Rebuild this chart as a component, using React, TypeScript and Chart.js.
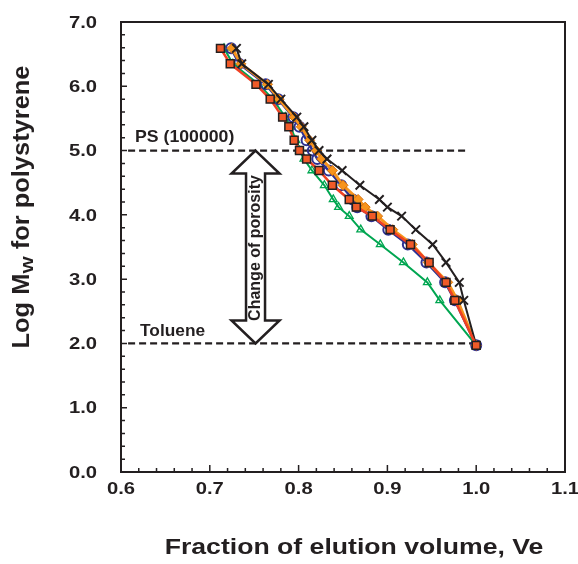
import React, { useEffect, useRef } from "react";
import { Chart, registerables } from "chart.js";

Chart.register(...registerables);

// Log Mw of the polystyrene standards (shared by all series)
const logMw = [6.59, 6.35, 6.03, 5.80, 5.52, 5.37, 5.16, 5.00, 4.87, 4.69, 4.46, 4.24, 4.12, 3.98, 3.77, 3.54, 3.26, 2.95, 2.67, 1.97];

// Fraction of elution volume for each series
const veRed = [0.712, 0.723, 0.752, 0.768, 0.782, 0.789, 0.795, 0.801, 0.809, 0.823, 0.838, 0.857, 0.865, 0.883, 0.903, 0.926, 0.947, 0.966, 0.976, 1.0];
const veBlue = [0.724, 0.733, 0.763, 0.777, 0.794, 0.801, 0.809, 0.816, 0.821, 0.834, 0.848, 0.861, 0.866, 0.882, 0.901, 0.923, 0.944, 0.965, 0.976, 1.0];
const veOrange = [0.725, 0.735, 0.765, 0.778, 0.795, 0.803, 0.8125, 0.820, 0.826, 0.838, 0.850, 0.867, 0.875, 0.889, 0.906, 0.928, 0.946, 0.968, 0.979, 1.0];
const veBlack = [0.730, 0.736, 0.766, 0.780, 0.798, 0.806, 0.815, 0.823, 0.832, 0.849, 0.869, 0.891, 0.900, 0.916, 0.932, 0.951, 0.966, 0.981, 0.986, 1.0];
const veGreen = [0.716, 0.726, 0.755, 0.771, 0.785, 0.791, 0.797, 0.801, 0.806, 0.815, 0.829, 0.839, 0.845, 0.857, 0.870, 0.892, 0.918, 0.945, 0.959, 1.0];

// Reference levels
const psLineX = [0.608, 0.99];
const psLevel = 5.0;
const tolueneLineX = [0.608, 1.0];
const tolueneLevel = 2.0;

// Axis ticks
const xTickValues = [0.6, 0.7, 0.8, 0.9, 1.0, 1.1];
const yTickValues = [0, 1, 2, 3, 4, 5, 6, 7];

const xTitle = "Fraction of elution volume, Ve";
const yTitleMain = "Log M";
const yTitleSub = "W";
const yTitleRest = " for polystyrene";
const psLabel = "PS (100000)";
const tolueneLabel = "Toluene";
const arrowLabel = "Change of porosity";

const INK = "#231f20";
const FONT = '"Liberation Sans", Arial, sans-serif';

const toPts = (xs: number[], ys: number[]) => xs.map((x, i) => ({ x, y: ys[i] }));

function stretchedText(ctx: CanvasRenderingContext2D, text: string, x: number, y: number, font: string, sx: number, align: CanvasTextAlign, baseline: CanvasTextBaseline) {
  ctx.save();
  ctx.translate(x, y);
  ctx.scale(sx, 1);
  ctx.font = font;
  ctx.textAlign = align;
  ctx.textBaseline = baseline;
  ctx.fillStyle = INK;
  ctx.fillText(text, 0, 0);
  ctx.restore();
}

const framePlugin = {
  id: "frameAndText",
  afterDraw(chart: any) {
    const ctx: CanvasRenderingContext2D = chart.ctx;
    const { left, right, top, bottom } = chart.chartArea;
    const xs = chart.scales.x;
    const ys = chart.scales.y;
    ctx.save();
    // frame
    ctx.strokeStyle = INK;
    ctx.lineWidth = 2;
    ctx.strokeRect(left, top, right - left, bottom - top);
    // ticks (inside)
    ctx.lineWidth = 1.5;
    ctx.beginPath();
    for (let i = 0; i <= 35; i++) {
      const v = i * 0.2;
      const py = ys.getPixelForValue(v);
      const len = i % 5 === 0 ? 6 : 4;
      ctx.moveTo(left, py);
      ctx.lineTo(left + len, py);
    }
    for (let i = 0; i <= 25; i++) {
      const v = 0.6 + i * 0.02;
      const px = xs.getPixelForValue(v);
      const len = i % 5 === 0 ? 7 : 4;
      ctx.moveTo(px, bottom);
      ctx.lineTo(px, bottom - len);
    }
    ctx.stroke();

    // tick labels
    const tickFont = `bold 17px ${FONT}`;
    yTickValues.forEach((v) => {
      stretchedText(ctx, v.toFixed(1), left - 24, ys.getPixelForValue(v) + 1, tickFont, 1.19, "right", "middle");
    });
    xTickValues.forEach((v) => {
      stretchedText(ctx, v.toFixed(1), xs.getPixelForValue(v), bottom + 22, tickFont, 1.19, "center", "alphabetic");
    });

    // x title
    stretchedText(ctx, xTitle, 354, 554, `bold 22px ${FONT}`, 1.21, "center", "alphabetic");

    // y title with subscript
    ctx.save();
    ctx.translate(29, 207);
    ctx.rotate(-Math.PI / 2);
    ctx.scale(1.06, 1);
    ctx.fillStyle = INK;
    ctx.textBaseline = "alphabetic";
    ctx.textAlign = "left";
    const mainFont = `bold 24px ${FONT}`;
    const subFont = `bold 15px ${FONT}`;
    ctx.font = mainFont;
    const w1 = ctx.measureText(yTitleMain).width;
    const w3 = ctx.measureText(yTitleRest).width;
    ctx.font = subFont;
    const w2 = ctx.measureText(yTitleSub).width * 1.15;
    const total = w1 + w2 + w3;
    let cx = -total / 2;
    ctx.font = mainFont;
    ctx.fillText(yTitleMain, cx, 0);
    cx += w1;
    ctx.save();
    ctx.translate(cx, 4);
    ctx.scale(1.15, 1);
    ctx.font = subFont;
    ctx.fillText(yTitleSub, 0, 0);
    ctx.restore();
    cx += w2;
    ctx.font = mainFont;
    ctx.fillText(yTitleRest, cx, 0);
    ctx.restore();

    // annotation labels
    stretchedText(ctx, psLabel, xs.getPixelForValue(0.6158), ys.getPixelForValue(psLevel) - 9, `bold 17px ${FONT}`, 1.04, "left", "alphabetic");
    stretchedText(ctx, tolueneLabel, xs.getPixelForValue(0.6215), ys.getPixelForValue(tolueneLevel) - 7, `bold 16px ${FONT}`, 1.08, "left", "alphabetic");

    // double arrow
    const ax = xs.getPixelForValue(0.7515);
    const aTop = ys.getPixelForValue(psLevel);
    const aBot = ys.getPixelForValue(tolueneLevel);
    const hh = 23, hw = 24, sw = 9.5;
    ctx.beginPath();
    ctx.moveTo(ax, aTop);
    ctx.lineTo(ax + hw, aTop + hh);
    ctx.lineTo(ax + sw, aTop + hh);
    ctx.lineTo(ax + sw, aBot - hh);
    ctx.lineTo(ax + hw, aBot - hh);
    ctx.lineTo(ax, aBot);
    ctx.lineTo(ax - hw, aBot - hh);
    ctx.lineTo(ax - sw, aBot - hh);
    ctx.lineTo(ax - sw, aTop + hh);
    ctx.lineTo(ax - hw, aTop + hh);
    ctx.closePath();
    ctx.fillStyle = "#ffffff";
    ctx.fill();
    ctx.lineWidth = 2.5;
    ctx.lineJoin = "miter";
    ctx.strokeStyle = INK;
    ctx.stroke();

    ctx.save();
    ctx.translate(ax, (aTop + aBot) / 2 + 1);
    ctx.rotate(-Math.PI / 2);
    ctx.font = `bold 16px ${FONT}`;
    ctx.textAlign = "center";
    ctx.textBaseline = "middle";
    ctx.fillStyle = INK;
    ctx.fillText(arrowLabel, 0, 0);
    ctx.restore();

    ctx.restore();
  },
};

export default function App() {
  const ref = useRef<HTMLCanvasElement | null>(null);
  useEffect(() => {
    if (!ref.current) return;
    const chart = new Chart(ref.current, {
      type: "scatter",
      data: {
        datasets: [
          {
            label: "PS",
            data: psLineX.map((x) => ({ x, y: psLevel })),
            showLine: true,
            borderColor: INK,
            borderWidth: 2.2,
            borderDash: [7, 4],
            pointRadius: 0,
            order: 10,
          },
          {
            label: "Toluene",
            data: tolueneLineX.map((x) => ({ x, y: tolueneLevel })),
            showLine: true,
            borderColor: INK,
            borderWidth: 2.2,
            borderDash: [7, 4],
            pointRadius: 0,
            order: 11,
          },
          {
            label: "green",
            data: toPts(veGreen, logMw),
            showLine: true,
            borderColor: "#00a651",
            borderWidth: 2,
            pointStyle: "triangle",
            pointRadius: 4.5,
            pointBorderWidth: 1.3,
            pointBackgroundColor: "rgba(255,255,255,0)",
            pointBorderColor: "#00a651",
            order: 5,
          },
          {
            label: "black",
            data: toPts(veBlack, logMw),
            showLine: true,
            borderColor: INK,
            borderWidth: 2,
            pointStyle: "crossRot",
            pointRadius: 6,
            pointBorderWidth: 2,
            pointBorderColor: INK,
            order: 2,
          },
          {
            label: "blue",
            data: toPts(veBlue, logMw),
            showLine: true,
            borderColor: "#2e3192",
            borderWidth: 2.5,
            pointStyle: "circle",
            pointRadius: 5,
            pointBorderWidth: 2,
            pointBackgroundColor: "rgba(255,255,255,0)",
            pointBorderColor: "#2e3192",
            order: 4,
          },
          {
            label: "orange",
            data: toPts(veOrange, logMw),
            showLine: true,
            borderColor: "#f7941d",
            borderWidth: 3,
            pointStyle: "rectRot",
            pointRadius: 5,
            pointBorderWidth: 1,
            pointBackgroundColor: "#f7941d",
            pointBorderColor: "#d9730d",
            order: 3,
          },
          {
            label: "red",
            data: toPts(veRed, logMw),
            showLine: true,
            borderColor: "#ef4123",
            borderWidth: 2.5,
            pointStyle: "rect",
            pointRadius: 5.6,
            pointBorderWidth: 1.5,
            pointBackgroundColor: "#f05a28",
            pointBorderColor: INK,
            order: 1,
          },
        ],
      },
      options: {
        responsive: false,
        animation: false,
        devicePixelRatio: 1,
        layout: { padding: { left: 0, right: 13, top: 22, bottom: 0 } },
        plugins: { legend: { display: false }, tooltip: { enabled: false } },
        scales: {
          x: {
            type: "linear",
            min: 0.6,
            max: 1.1,
            grid: { display: false },
            border: { display: false },
            ticks: { display: false, stepSize: 0.1 },
            afterFit: (s: any) => { s.height = 92; },
          },
          y: {
            type: "linear",
            min: 0,
            max: 7,
            grid: { display: false },
            border: { display: false },
            ticks: { display: false, stepSize: 1 },
            afterFit: (s: any) => { s.width = 121; },
          },
        },
      },
      plugins: [framePlugin],
    });
    return () => chart.destroy();
  }, []);
  return (
    <div style={{ position: "fixed", left: 0, top: 0, width: 578, height: 564, background: "#fff" }}>
      <canvas ref={ref} width={578} height={564} />
    </div>
  );
}
